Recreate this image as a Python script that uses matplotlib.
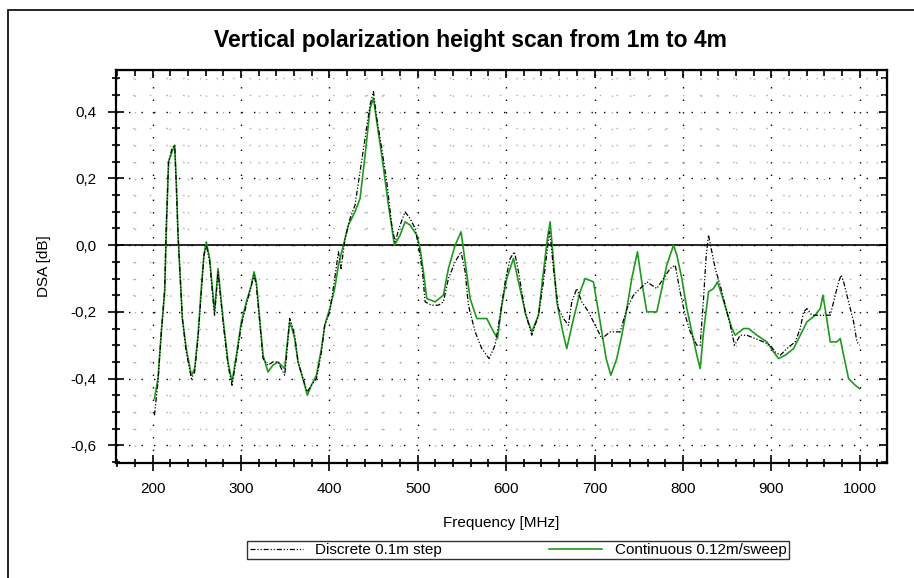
import matplotlib
matplotlib.use('Agg')
import matplotlib.pyplot as plt
from matplotlib.ticker import MultipleLocator, FuncFormatter
from matplotlib.patches import Rectangle

plt.rcParams['font.family'] = ['Liberation Sans', 'DejaVu Sans']

# discrete 0.1m step (black dash-dot-dot)
freq_discrete = [202, 206, 209.8, 213.6, 215.5, 218, 221.9, 224.9, 226.8, 228.7, 231.3, 233.6, 238, 243.8,
                 247.5, 251.3, 255, 258, 260.7, 264.5, 268.3, 270, 274, 275.8, 279.6, 285.3, 289.8, 294.7,
                 300.3, 306, 311.7, 314.7, 317.3, 321.1, 324.9, 330.5, 336, 341.9, 345.6, 349.4, 351.3, 355,
                 357.7, 360.7, 364.5, 370, 375, 379.6, 385.3, 391, 394.7, 400.4, 406, 410.2, 413.2, 417.7,
                 423.4, 429, 434.7, 440.4, 446, 449.8, 453.6, 459.2, 464.9, 470.6, 474.3, 480, 485.6, 491.3,
                 497, 500.7, 505.3, 508.3, 515.8, 523.4, 529, 534.7, 542.3, 549, 553.6, 557.3, 564.9, 572.4,
                 580.7, 587.5, 593.2, 598.9, 604.5, 609.4, 614, 621.5, 629, 636.6, 642.2, 646.7, 649, 651,
                 653.5, 659.2, 664.9, 670.5, 674.3, 680, 685.6, 693.2, 700.7, 708.3, 717.7, 729, 736.6, 744.1,
                 751.7, 759.2, 770.5, 778.1, 785.6, 791.3, 796.9, 802.6, 808.3, 815.8, 819.6, 823.4, 826.4,
                 829, 832.8, 836.6, 842.2, 847.9, 853.6, 858.5, 864.9, 872.4, 881.9, 891.3, 898.8, 904.5,
                 910.2, 917.7, 927.1, 932.8, 936.6, 940.4, 946, 953.6, 961.1, 966.8, 972.4, 976.2, 979.2,
                 981.9, 987.5, 993.2, 997, 1000]
dsa_discrete = [-0.51, -0.41, -0.26, -0.13, 0.07, 0.25, 0.29, 0.30, 0.18, 0.03, -0.10, -0.22, -0.32, -0.40,
                -0.38, -0.28, -0.14, -0.03, 0.00, -0.05, -0.16, -0.21, -0.08, -0.13, -0.23, -0.36, -0.42, -0.34,
                -0.24, -0.18, -0.12, -0.09, -0.12, -0.23, -0.34, -0.36, -0.35, -0.35, -0.37, -0.39, -0.34, -0.22,
                -0.24, -0.27, -0.35, -0.40, -0.44, -0.42, -0.40, -0.32, -0.24, -0.20, -0.10, -0.02, -0.07, 0.02,
                0.08, 0.12, 0.22, 0.32, 0.42, 0.46, 0.38, 0.29, 0.19, 0.06, 0.01, 0.06, 0.10, 0.08,
                0.05, 0.00, -0.08, -0.17, -0.18, -0.18, -0.17, -0.10, -0.05, -0.02, -0.08, -0.18, -0.26, -0.31,
                -0.34, -0.30, -0.21, -0.11, -0.04, -0.02, -0.08, -0.20, -0.27, -0.21, -0.11, -0.01, 0.04, 0.00,
                -0.07, -0.19, -0.22, -0.24, -0.17, -0.13, -0.17, -0.20, -0.24, -0.28, -0.26, -0.26, -0.19, -0.15,
                -0.13, -0.11, -0.13, -0.10, -0.07, -0.06, -0.14, -0.21, -0.26, -0.30, -0.30, -0.16, -0.03,
                0.03, -0.02, -0.07, -0.12, -0.18, -0.24, -0.30, -0.27, -0.27, -0.28, -0.29, -0.30, -0.32,
                -0.33, -0.31, -0.29, -0.25, -0.20, -0.19, -0.21, -0.21, -0.21, -0.21, -0.15, -0.11, -0.09,
                -0.11, -0.17, -0.23, -0.29, -0.30]

# continuous 0.12m/sweep (green)
freq_continuous = [202, 206, 209.8, 213.6, 215.5, 218, 221.9, 224.9, 226.8, 228.7, 231.3, 233.6, 238, 243.8,
                   247.5, 251.3, 255, 258, 260.7, 264.5, 268.3, 270, 274, 275.8, 279.6, 285.3, 289.8, 294.7,
                   300.3, 306, 311.7, 314.7, 317.3, 321.1, 324.9, 330.5, 336, 341.9, 345.6, 349.4, 351.3, 355,
                   357.7, 360.7, 364.5, 370, 375, 379.6, 385.3, 391, 394.7, 400.4, 406, 410.2, 414, 421.5,
                   429, 434.7, 440.4, 446, 449.8, 453.6, 459.2, 466.8, 473.6, 480, 485.6, 491.3, 498.9, 502.6,
                   506.4, 510.2, 519.6, 529, 534.7, 542.3, 549, 553.6, 559.2, 566.8, 578.1, 583.8, 590.2, 595.1,
                   600.7, 608.3, 614, 622.4, 629, 636.6, 642.2, 646.7, 649.8, 652.4, 657.3, 664.1, 668.6, 675.4,
                   683.7, 689.4, 698.8, 706.4, 713.2, 718.5, 725.2, 730.9, 736.6, 742.2, 748.6, 753.5, 759.2,
                   770.5, 776.2, 781.8, 789.4, 793.2, 798.8, 804.5, 810.1, 815.8, 819.6, 823.4, 829, 834.7,
                   839.2, 844.1, 849.8, 855.5, 859.2, 868.7, 874.3, 883.8, 895.1, 902.6, 908.3, 915.8, 925.3,
                   932.8, 940.4, 949.8, 955.5, 958.5, 962.2, 966.8, 974.3, 978.1, 981.9, 987.5, 995.1, 1000]
dsa_continuous = [-0.46, -0.40, -0.26, -0.14, 0.05, 0.25, 0.28, 0.30, 0.18, 0.03, -0.10, -0.22, -0.31, -0.39,
                  -0.37, -0.27, -0.13, -0.03, 0.01, -0.04, -0.15, -0.20, -0.07, -0.12, -0.22, -0.35, -0.41, -0.33,
                  -0.23, -0.17, -0.12, -0.08, -0.11, -0.22, -0.33, -0.38, -0.36, -0.35, -0.36, -0.37, -0.32, -0.23,
                  -0.25, -0.28, -0.35, -0.40, -0.45, -0.42, -0.39, -0.31, -0.24, -0.19, -0.13, -0.06, -0.02, 0.06,
                  0.10, 0.14, 0.27, 0.41, 0.44, 0.37, 0.27, 0.12, 0.00, 0.03, 0.07, 0.06, 0.03, -0.01,
                  -0.08, -0.16, -0.17, -0.15, -0.07, 0.00, 0.04, -0.05, -0.16, -0.22, -0.22, -0.25, -0.28, -0.18,
                  -0.10, -0.04, -0.11, -0.21, -0.26, -0.21, -0.08, 0.02, 0.07, -0.01, -0.17, -0.26, -0.31, -0.23,
                  -0.14, -0.10, -0.11, -0.23, -0.34, -0.39, -0.34, -0.27, -0.19, -0.10, -0.02, -0.11, -0.20,
                  -0.20, -0.13, -0.06, 0.00, -0.03, -0.10, -0.19, -0.26, -0.33, -0.37, -0.26, -0.14, -0.13,
                  -0.11, -0.15, -0.20, -0.25, -0.27, -0.25, -0.25, -0.27, -0.29, -0.32, -0.34, -0.33, -0.31,
                  -0.27, -0.23, -0.21, -0.19, -0.15, -0.21, -0.29, -0.29, -0.28, -0.33, -0.40, -0.42, -0.43]

fig = plt.figure(figsize=(9.14, 5.78), dpi=100)
ax = fig.add_axes([116/914, 1 - 463/578, (887 - 116)/914, (463 - 70)/578])

# outer frame of the chart
fig.add_artist(Rectangle((8/914, -0.1), 1.2, 1 - 10/578 + 0.1, transform=fig.transFigure,
                         fill=False, edgecolor='black', linewidth=1.2, clip_on=False))

ax.plot(freq_discrete, dsa_discrete, color='black', lw=0.9,
        linestyle=(0, (4, 1.5, 1, 1.5, 1, 1.5)), label='Discrete 0.1m step', zorder=3)
ax.plot(freq_continuous, dsa_continuous, color='#1f9a1f', lw=1.2,
        label='Continuous 0.12m/sweep', zorder=2)
ax.axhline(0, color='black', lw=1.2, zorder=1)

ax.set_xlim(158.5, 1031)
ax.set_ylim(-0.653, 0.525)
ax.xaxis.set_major_locator(MultipleLocator(100))
ax.xaxis.set_minor_locator(MultipleLocator(20))
ax.yaxis.set_major_locator(MultipleLocator(0.2))
ax.yaxis.set_minor_locator(MultipleLocator(0.05))
ax.yaxis.set_major_formatter(FuncFormatter(lambda v, p: ('%.1f' % v).replace('.', ',').replace('-0,0', '0,0')))

ax.grid(which='major', color='black', linestyle=(0, (1, 8)), lw=1)
ax.grid(which='minor', color='#aaaaaa', linestyle=(0, (1, 11)), lw=1)
ax.set_axisbelow(True)

ax.tick_params(which='major', direction='inout', length=12, width=1.2, labelsize=11, pad=8)
ax.tick_params(which='minor', direction='inout', length=6, width=1.2)
for s in ax.spines.values():
    s.set_linewidth(1.6)

# inward ticks on top and right
top = ax.secondary_xaxis('top')
top.xaxis.set_major_locator(MultipleLocator(100))
top.xaxis.set_minor_locator(MultipleLocator(20))
top.tick_params(which='both', direction='in', labeltop=False, width=1.2)
top.tick_params(which='major', length=6)
top.tick_params(which='minor', length=4)
right = ax.secondary_yaxis('right')
right.yaxis.set_major_locator(MultipleLocator(0.2))
right.yaxis.set_minor_locator(MultipleLocator(0.05))
right.tick_params(which='both', direction='in', labelright=False, width=1.2)
right.tick_params(which='major', length=6)
right.tick_params(which='minor', length=4)

ax.set_xlabel('Frequency [MHz]', fontsize=11, labelpad=14)
ax.set_ylabel('DSA [dB]', fontsize=11, labelpad=14)
fig.text(470/914, 1 - 41/578, 'Vertical polarization height scan from 1m to 4m',
         ha='center', va='center', fontsize=16.5, fontweight='bold')

leg = fig.legend(loc='center', bbox_to_anchor=(518/914, 1 - 550/578), ncol=2, fontsize=11,
                 frameon=True, fancybox=False, edgecolor='black', columnspacing=7,
                 handlelength=3.5, borderpad=0.15, handletextpad=0.8)
leg.get_frame().set_linewidth(1.0)

plt.savefig('out.png', dpi=100)
